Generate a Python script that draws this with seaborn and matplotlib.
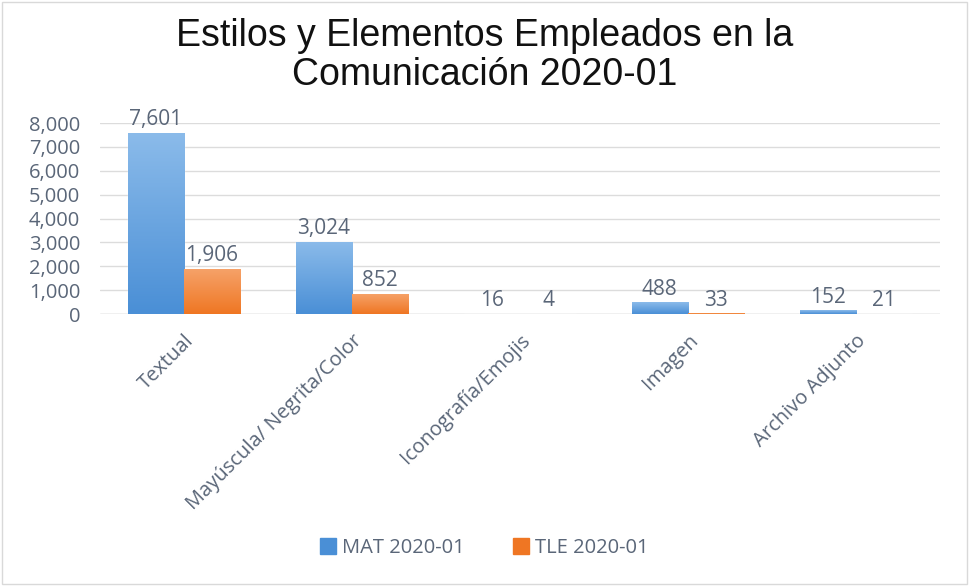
import matplotlib
matplotlib.use("Agg")
import matplotlib.pyplot as plt
import seaborn as sns
import pandas as pd
import numpy as np
from matplotlib.colors import LinearSegmentedColormap

categories = ["Textual", "Mayúscula/ Negrita/Color", "Iconografía/Emojis", "Imagen", "Archivo Adjunto"]
series_names = ["MAT 2020-01", "TLE 2020-01"]
mat_values = [7601, 3024, 16, 488, 152]
tle_values = [1906, 852, 4, 33, 21]
y_ticks = [0, 1000, 2000, 3000, 4000, 5000, 6000, 7000, 8000]
title = "Estilos y Elementos Empleados en la\nComunicación 2020-01"

df = pd.DataFrame({
    "cat": categories * 2,
    "serie": [series_names[0]] * len(categories) + [series_names[1]] * len(categories),
    "val": mat_values + tle_values,
})

sns.set_theme(style="white")
plt.rcParams["font.family"] = ["Open Sans", "DejaVu Sans"]

blue = "#4A8FD6"
orange = "#EF7623"
txt = "#5A6678"

fig = plt.figure(figsize=(9.69, 5.86), dpi=100)
ax = fig.add_axes([0.103, 0.464, 0.867, 0.326])
sns.barplot(data=df, x="cat", y="val", hue="serie", palette=[blue, orange],
            width=0.67, ax=ax, saturation=1, legend=True)

ax.set_ylim(0, 8000)
ax.set_yticks(y_ticks)
ax.set_yticklabels([f"{v:,}" for v in y_ticks], fontsize=14.5, color=txt)
ax.yaxis.grid(True, color="#DCDCDC", linewidth=1)
ax.set_axisbelow(True)
for s in ax.spines.values():
    s.set_visible(False)
ax.axhline(0, color="#D0D0D0", linewidth=1, zorder=0.5)
ax.tick_params(axis="y", length=0, pad=14)
ax.tick_params(axis="x", length=0, pad=12)
ax.set_xlabel("")
ax.set_ylabel("")
ax.set_xticks(range(len(categories)))
ax.set_xticklabels(categories, rotation=45, ha="right", rotation_mode="anchor",
                   fontsize=14.5, color=txt)

# gradients on bars
grads = {0: ("#8BBBEA", blue), 1: ("#F6A36A", orange)}
for ci, cont in enumerate(ax.containers):
    c_top, c_bot = grads[ci]
    cmap = LinearSegmentedColormap.from_list("g", [c_bot, c_top])
    for p in cont.patches:
        x0, y0 = p.get_x(), p.get_y()
        w, h = p.get_width(), p.get_height()
        if h <= 0:
            continue
        grad = np.linspace(0, 1, 100).reshape(-1, 1)
        im = ax.imshow(grad, extent=[x0, x0 + w, y0, y0 + h], origin="lower",
                       cmap=cmap, aspect="auto", zorder=p.get_zorder())
        im.set_clip_path(p)
    labels = [f"{v:,.0f}" for v in cont.datavalues]
    ax.bar_label(cont, labels=labels, padding=2, fontsize=15, color=txt)
ax.set_xlim(-0.5, len(categories) - 0.5)
ax.set_ylim(0, 8000)

leg = ax.get_legend()
leg.remove()
handles = [plt.Rectangle((0, 0), 1, 1, color=blue), plt.Rectangle((0, 0), 1, 1, color=orange)]
fig.legend(handles, series_names, loc="center", bbox_to_anchor=(0.5, 0.065), ncol=2,
           frameon=False, fontsize=14.5, labelcolor=txt, handlelength=0.8, handleheight=0.8,
           handletextpad=0.3, columnspacing=2.4)

fig.text(0.5, 0.905, title, ha="center", va="center", fontsize=27,
         family=["Liberation Sans", "DejaVu Sans"], color="#111111", linespacing=1.1)

fig.patches.append(plt.Rectangle((0.002, 0.003), 0.996, 0.994, transform=fig.transFigure,
                                 fill=False, edgecolor="#D9D9D9", linewidth=1))
fig.savefig("out.png", dpi=100)
